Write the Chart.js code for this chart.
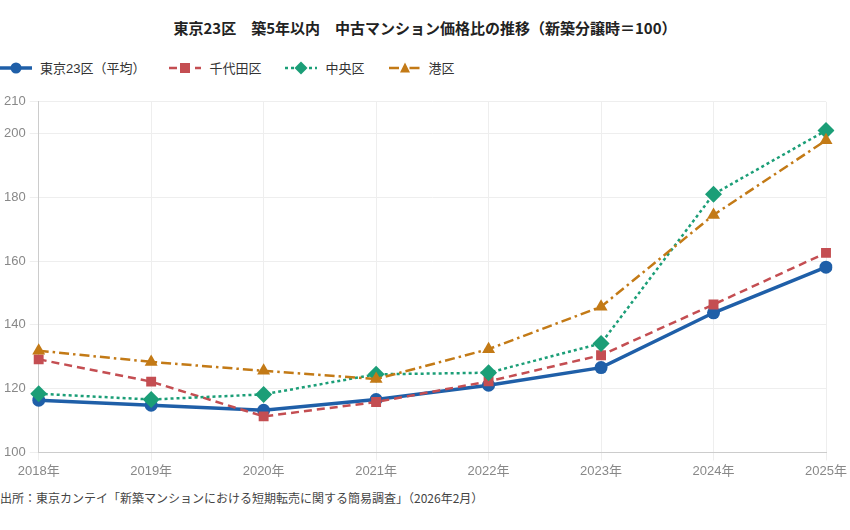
<!DOCTYPE html>
<html lang="ja">
<head>
<meta charset="utf-8">
<script src="https://cdn.jsdelivr.net/npm/chart.js@4.4.1/dist/chart.umd.min.js"></script>
<style>
  body { margin: 0; background: #fff; font-family: "Noto Sans CJK JP", "Noto Sans", sans-serif; }
  #wrap { position: relative; width: 850px; height: 530px; }
  #title { position: absolute; top: 17px; left: 0; width: 850px; text-align: center; font-size: 15px; font-weight: bold; color: #222; }
  #legend { position: absolute; top: 58px; left: 0; display: flex; font-size: 13px; color: #333;
            font-family: "Liberation Sans", "Noto Sans CJK JP", sans-serif; }
  .item { display: flex; align-items: center; margin-right: 24px; }
  .item svg { margin-right: 8px; }
  #chart-box { position: absolute; top: 90px; left: 0; width: 850px; height: 392px; }
  #source { position: absolute; top: 489px; left: 0; font-size: 12px; color: #444; }
</style>
</head>
<body>
<div id="wrap">
  <div id="title">東京23区　築5年以内　中古マンション価格比の推移（新築分譲時＝100）</div>
  <div id="legend"></div>
  <div id="chart-box"><canvas id="chart"></canvas></div>
  <div id="source">出所：東京カンテイ「新築マンションにおける短期転売に関する簡易調査」（2026年2月）</div>
</div>
<script>
const years = ['2018年', '2019年', '2020年', '2021年', '2022年', '2023年', '2024年', '2025年'];
const tokyo23 = [116.4, 114.8, 113.2, 116.6, 121.1, 126.6, 143.8, 158.1];
const chiyoda = [129.2, 122.2, 111.3, 115.8, 122.3, 130.5, 146.4, 162.6];
const chuo = [118.4, 116.6, 118.2, 124.5, 125.0, 134.2, 181.0, 201.0];
const minato = [131.9, 128.4, 125.6, 123.0, 132.4, 145.7, 174.5, 197.9];

const series = [
    { label: '東京23区（平均）', data: tokyo23, color: '#1f5fa8', width: 3.5, dash: [], point: 'circle', radius: 6.5 },
    { label: '千代田区', data: chiyoda, color: '#c44e52', width: 2.5, dash: [8, 5], point: 'rect', radius: 7 },
    { label: '中央区', data: chuo, color: '#1b9e77', width: 2.5, dash: [3, 3], point: 'rectRot', radius: 8.5 },
    { label: '港区', data: minato, color: '#c37a16', width: 2.5, dash: [10, 4, 2.5, 4], point: 'triangle', radius: 7.5 }
];

// legend: line sample + marker, drawn as small svg
const legend = document.getElementById('legend');
series.forEach(s => {
    const marker = {
        circle: `<circle cx="16" cy="8" r="5.5" fill="${s.color}"/>`,
        rect: `<rect x="11" y="3" width="10" height="10" fill="${s.color}"/>`,
        rectRot: `<polygon points="16,1.5 22.5,8 16,14.5 9.5,8" fill="${s.color}"/>`,
        triangle: `<polygon points="16,2.5 21,12.5 11,12.5" fill="${s.color}"/>`
    }[s.point];
    const dash = s.dash.length ? `stroke-dasharray="${s.dash.join(',')}"` : '';
    const item = document.createElement('div');
    item.className = 'item';
    item.innerHTML = `<svg width="32" height="16"><line x1="0" y1="8" x2="32" y2="8" stroke="${s.color}" stroke-width="${s.width}" ${dash}/>${marker}</svg><span>${s.label}</span>`;
    legend.appendChild(item);
});

const tickFont = { size: 13, family: '"Liberation Sans", "Noto Sans CJK JP", sans-serif' };

new Chart(document.getElementById('chart'), {
    type: 'line',
    data: {
        labels: years,
        datasets: series.map(s => ({
            label: s.label,
            data: s.data,
            borderColor: s.color,
            backgroundColor: s.color,
            borderWidth: s.width,
            borderDash: s.dash,
            pointStyle: s.point,
            pointRadius: s.radius,
            pointHoverRadius: s.radius,
            pointBorderWidth: 0,
            tension: 0,
            fill: false
        })).reverse()
    },
    options: {
        responsive: true,
        maintainAspectRatio: false,
        animation: false,
        layout: { padding: { top: 6, right: 24, left: 0, bottom: 0 } },
        plugins: {
            legend: { display: false },
            tooltip: { enabled: false }
        },
        scales: {
            x: {
                offset: false,
                grid: { color: '#eeeeee', tickLength: 8 },
                border: { color: '#cccccc' },
                ticks: { color: '#888', font: tickFont, padding: 3, maxRotation: 0 }
            },
            y: {
                min: 100,
                max: 210,
                grid: { color: '#eeeeee', tickLength: 9 },
                border: { color: '#cccccc' },
                ticks: { stepSize: 20, color: '#888', font: tickFont, padding: 4 }
            }
        }
    }
});
</script>
</body>
</html>
